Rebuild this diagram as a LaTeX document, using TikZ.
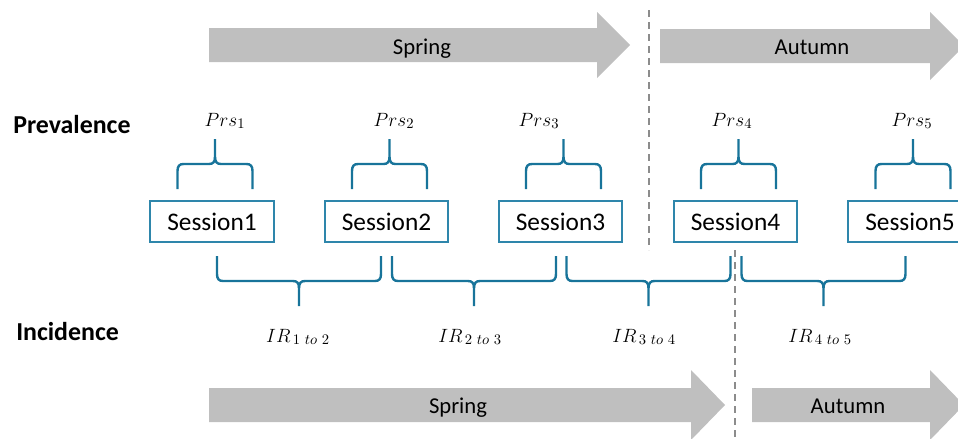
\documentclass[tikz,border=0pt]{standalone}
\usepackage[no-math]{fontspec}
\setmainfont{Carlito}
\usepackage{amsmath}

\definecolor{seasongray}{RGB}{191,191,191}
\definecolor{boxblue}{RGB}{46,134,171}
\definecolor{braceblue}{RGB}{24,116,154}
\definecolor{dashgray}{RGB}{140,140,140}

\tikzset{
  session/.style={draw=boxblue, line width=1.3pt, minimum width=92.5pt, minimum height=31pt, inner sep=0pt, font=\fontsize{19}{22}\selectfont},
  rowlabel/.style={anchor=base west, inner sep=0pt, font=\bfseries\fontsize{19.4}{22}\selectfont},
  seasonlabel/.style={anchor=base, inner sep=0pt, font=\fontsize{17}{20}\selectfont},
  ratelabel/.style={anchor=base, inner sep=0pt, font=\fontsize{15.5}{18}\selectfont},
  braceline/.style={draw=braceblue, line width=1.8pt},
  seasonarrow/.style={fill=seasongray},
  divider/.style={draw=dashgray, line width=1.5pt, dash pattern=on 5.25pt off 3.75pt},
  % pics are drawn with y pointing up
  prs brace/.pic={
    \draw[braceline] (-37.5,-25) -- (-37.5,-7) .. controls (-37.5,-2) and (-35.5,0) .. (-31.5,0) -- (-6,0) .. controls (-2,0) and (0,2) .. (0,7) -- (0,25);
    \draw[braceline] (0,7) .. controls (0,2) and (2,0) .. (6,0) -- (31.5,0) .. controls (35.5,0) and (37.5,-2) .. (37.5,-7) -- (37.5,-25);
  },
  ir brace/.pic={
    \draw[braceline] (-82,25) -- (-82,7) .. controls (-82,2) and (-80,0) .. (-76,0) -- (-6,0) .. controls (-2,0) and (0,-2) .. (0,-7) -- (0,-25);
    \draw[braceline] (0,-7) .. controls (0,-2) and (2,0) .. (6,0) -- (76,0) .. controls (80,0) and (82,2) .. (82,7) -- (82,25);
  },
}

\begin{document}
\begin{tikzpicture}[x=0.75pt,y=0.75pt,yscale=-1,xscale=1]
\useasboundingbox (0,0) rectangle (958,439);
\clip (0,0) rectangle (958,439);

%Season arrows, top row
\fill[seasonarrow] (209,28) -- (597,28) -- (597,12) -- (630,45) -- (597,78) -- (597,62) -- (209,62) -- cycle;
\fill[seasonarrow] (660,29) -- (930,29) -- (930,12) -- (964,46) -- (930,80) -- (930,63) -- (660,63) -- cycle;
\node[seasonlabel] (spring1) at (422,54) {Spring};
\node[seasonlabel] (autumn1) at (812,54) {Autumn};

%Season arrows, bottom row
\fill[seasonarrow] (209,388) -- (691,388) -- (691,370) -- (725,405) -- (691,440) -- (691,422) -- (209,422) -- cycle;
\fill[seasonarrow] (752,388) -- (930,388) -- (930,370) -- (964,405) -- (930,440) -- (930,422) -- (752,422) -- cycle;
\node[seasonlabel] (spring2) at (458,413) {Spring};
\node[seasonlabel] (autumn2) at (848,413) {Autumn};

%Dividers between seasons
\draw[divider] (649,10) -- (649,250);
\draw[divider] (735,250) -- (735,439);

%Row titles
\node[rowlabel] (prev) at (13,133) {Prevalence};
\node[rowlabel] (inc) at (16,340) {Incidence};

%Sessions
\foreach \i/\x in {1/212,2/386.5,3/560.5,4/735.5,5/910}
  \node[session] (s\i) at (\x,221.5) {Session\i};

%Prevalence braces and labels
\foreach \x in {215,389.5,563.5,738.5,913}
  \pic at (\x,164) {prs brace};
\foreach \i/\x in {1/225,2/394,3/539,4/732,5/912}
  \node[ratelabel] (prs\i) at (\x,126) {$Prs_{\i}$};

%Incidence braces and labels
\foreach \x in {299,474,648.5,823.5}
  \pic at (\x,281) {ir brace};
\foreach \i/\j/\x in {1/2/298,2/3/470,3/4/644,4/5/820}
  \node[ratelabel] (ir\i) at (\x,342) {$IR_{\,\i\ to\ \j}$};

\end{tikzpicture}
\end{document}
